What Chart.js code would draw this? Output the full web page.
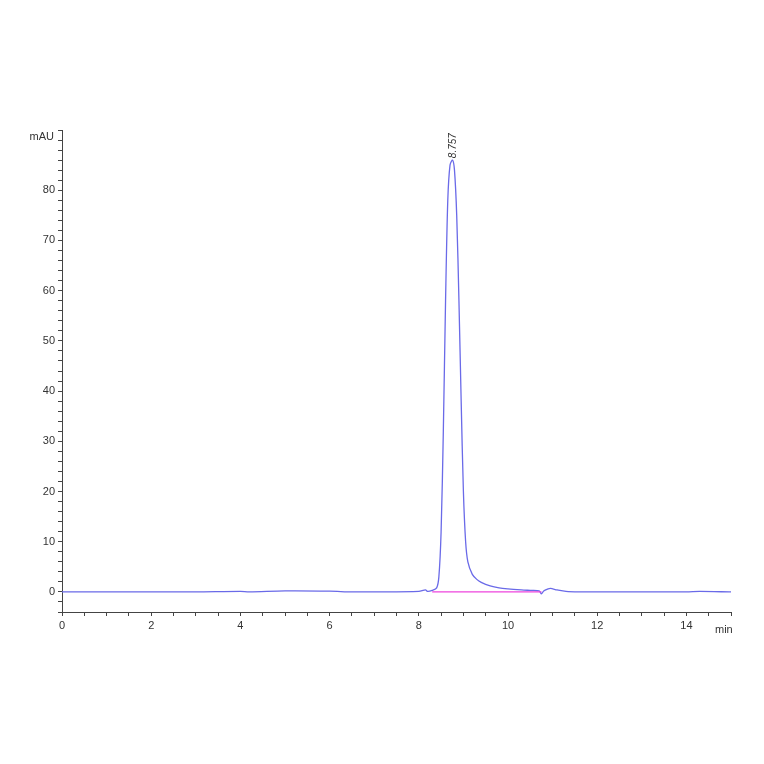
<!DOCTYPE html>
<html><head><script src="https://cdn.jsdelivr.net/npm/chart.js@4"></script>
<style>body{margin:0;background:#fff}#w{width:764px;height:764px}</style></head>
<body><div id="w"><canvas id="c"></canvas></div>
<script>
const timeMin=[0,1,2,3,4,4.2,5,6,6.5,7,8,8.15,8.2,8.3,8.4,8.45,8.5,8.55,8.6,8.65,8.7,8.757,8.8,8.85,8.9,8.95,9.0,9.05,9.1,9.2,9.3,9.4,9.6,9.8,10,10.3,10.5,10.7,10.75,10.8,10.9,10.95,11.1,11.3,11.6,12,13,14,14.3,15];
const signal=[0,0,0,0,0.1,0,0.2,0.15,0,0,0.1,0.4,0.1,0.3,0.8,3,12,32,58,78,85,86,84,75,58,38,20,10,6,3.5,2.5,1.9,1.2,0.8,0.6,0.4,0.3,0.2,-0.4,0.2,0.6,0.7,0.4,0.1,0,0,0,0,0.1,0];
const baseX=[8.3,10.75];
const baseY=[0,0];
const peakLabel='8.757', peakT=8.757, peakV=86;
const xMajor=[0,2,4,6,8,10,12,14];
const yMajor=[0,10,20,30,40,50,60,70,80];
const txt={id:'txt',afterDraw(ch){const c=ch.ctx,x=ch.scales.x,y=ch.scales.y;c.save();c.fillStyle='#333';c.font='11px "Liberation Sans"';c.textAlign='right';c.textBaseline='middle';c.fillText('mAU',54,137);c.textAlign='left';c.fillText('min',715,630);
c.translate(x.getPixelForValue(peakT)+1,y.getPixelForValue(peakV)-2);c.rotate(-Math.PI/2);c.font='italic 10px "Liberation Sans"';c.fillText(peakLabel,0,0);c.restore();}};
new Chart(document.getElementById('c'),{type:'scatter',data:{datasets:[
{data:baseX.map((t,i)=>({x:t,y:baseY[i]})),showLine:true,borderColor:'#ee44dd',borderWidth:1.2,pointRadius:0},
{data:timeMin.map((t,i)=>({x:t,y:signal[i]})),showLine:true,borderColor:'#6a6ae8',borderWidth:1.3,pointRadius:0,tension:0.3}]},
options:{responsive:true,maintainAspectRatio:false,animation:false,layout:{padding:{left:0,right:33,top:130,bottom:122}},
plugins:{legend:{display:false},tooltip:{enabled:false}},
scales:{x:{type:'linear',min:0,max:15,afterFit(s){s.height=30},border:{color:'#444'},grid:{drawOnChartArea:false,tickLength:4,color:'#444'},
ticks:{stepSize:0.5,autoSkip:false,maxRotation:0,color:'#333',font:{size:11,family:'Liberation Sans'},callback:v=>xMajor.includes(v)?String(v):''}},
y:{min:-4,max:92,afterFit(s){s.width=62},border:{color:'#444'},grid:{drawOnChartArea:false,tickLength:4,color:'#444'},
ticks:{stepSize:2,autoSkip:false,color:'#333',font:{size:11,family:'Liberation Sans'},callback:v=>yMajor.includes(v)?String(v):''}}}},
plugins:[txt]});
</script></body></html>
